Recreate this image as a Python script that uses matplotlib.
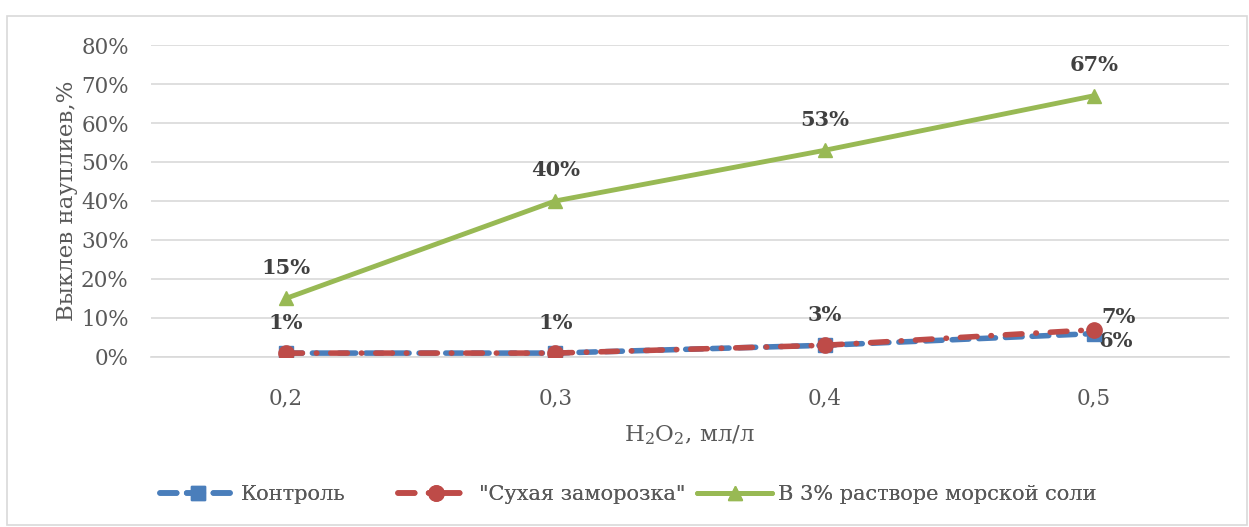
import matplotlib
matplotlib.use("Agg")
import matplotlib.pyplot as plt
from matplotlib.patches import Rectangle
from matplotlib.ticker import PercentFormatter

categories = ["0,2", "0,3", "0,4", "0,5"]
control = [0.01, 0.01, 0.03, 0.06]
dry_freeze = [0.01, 0.01, 0.03, 0.07]
salt = [0.15, 0.40, 0.53, 0.67]
series_names = ["Контроль", '"Сухая заморозка"', "В 3% растворе морской соли"]

plt.rcParams['font.family'] = ['DejaVu Serif']
plt.rcParams['mathtext.fontset'] = 'dejavuserif'

W, H = 1249, 527
fig = plt.figure(figsize=(W / 100, H / 100), dpi=100)
fig.patches.append(Rectangle((0.006, 0.004), 0.992, 0.966, transform=fig.transFigure,
                             fill=False, edgecolor='#d9d9d9', lw=1.2))
ax = fig.add_axes([0.1209, 0.3226, 0.863, 0.592])

x = list(range(len(categories)))
blue = '#4a7ebb'
red = '#be4b48'
green = '#98b954'

l_salt, = ax.plot(x, salt, color=green, lw=3.5, marker='^', ms=10, label=series_names[2],
                  zorder=3, solid_capstyle='round')
l_ctrl, = ax.plot(x, control, color=blue, lw=4, ls=(0, (3, 1.8)), marker='s', ms=10,
                  dash_capstyle='round', label=series_names[0], zorder=4)
l_dry, = ax.plot(x, dry_freeze, color=red, lw=4, ls=(0, (3, 2.5, 0.1, 2.5)), marker='o',
                 ms=11, dash_capstyle='round', label=series_names[1], zorder=5)

ax.set_xlim(-0.5, len(categories) - 0.5)
ax.set_ylim(0, 0.8)
ax.set_yticks([i / 10 for i in range(9)])
ax.yaxis.set_major_formatter(PercentFormatter(1.0, decimals=0))
ax.set_xticks(x)
ax.set_xticklabels(categories)
ax.grid(axis='y', color='#d9d9d9', lw=1.2)
ax.set_axisbelow(True)
for s in ['top', 'right', 'left']:
    ax.spines[s].set_visible(False)
ax.spines['bottom'].set_color('#d9d9d9')
ax.spines['bottom'].set_linewidth(1.2)
ax.tick_params(axis='both', length=0, labelsize=15.5, colors='#595959')
ax.tick_params(axis='y', pad=16)
ax.tick_params(axis='x', pad=22)

ax.set_ylabel("Выклев науплиев,%", fontsize=16.5, color='#595959', labelpad=2)
ax.set_xlabel("H$_2$O$_2$, мл/л", fontsize=16.5, color='#595959', labelpad=10)

lab_kw = dict(fontsize=15, fontweight='bold', color='#404040')
for xi, v in zip(x, salt):
    ax.annotate(f"{round(v*100)}%", (xi, v), xytext=(0, 22), textcoords='offset points',
                va='center', ha='center', **lab_kw)
for xi, v in zip(x[:3], dry_freeze[:3]):
    ax.annotate(f"{round(v*100)}%", (xi, v), xytext=(0, 22), textcoords='offset points',
                va='center', ha='center', **lab_kw)
ax.annotate(f"{round(dry_freeze[3]*100)}%", (x[3], dry_freeze[3]), xytext=(5, 9),
            textcoords='offset points', va='center', ha='left', **lab_kw)
ax.annotate(f"{round(control[3]*100)}%", (x[3], control[3]), xytext=(3, -5),
            textcoords='offset points', va='center', ha='left', **lab_kw)

# individual legend entries placed like the reference
for line, name, px in [(l_ctrl, series_names[0], 160), (l_dry, series_names[1], 398),
                       (l_salt, series_names[2], 697)]:
    lg = fig.legend([line], [name], loc='center left',
                    bbox_to_anchor=(px / W, 1 - 495 / H), frameon=False, fontsize=15,
                    handlelength=3.6, handletextpad=0.3, borderpad=0, borderaxespad=0,
                    labelcolor='#595959')
    fig.add_artist(lg)

fig.savefig("out.png", dpi=100)
